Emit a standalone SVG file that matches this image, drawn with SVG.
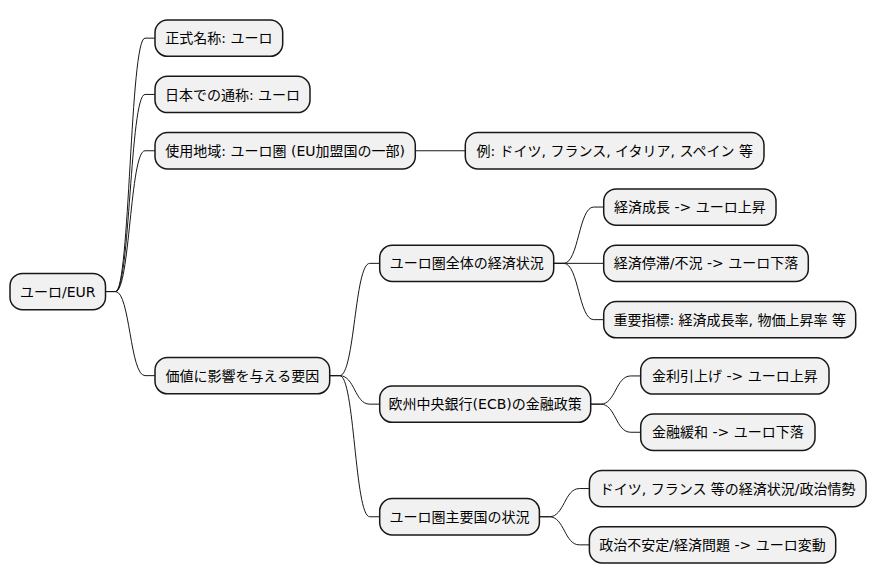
<svg xmlns="http://www.w3.org/2000/svg" width="876" height="583" viewBox="0 0 876 583">
<style>
.n rect{fill:#F1F1F1;stroke:#181818;stroke-width:1.5}
.n text{font-family:"DejaVu Sans","Noto Sans CJK JP",sans-serif;font-size:14px;fill:#000;text-anchor:middle}
#connectors path{fill:none;stroke:#181818;stroke-width:1}
</style>
<rect width="876" height="583" fill="#FFFFFF"/>
<g id="connectors">
<path d="M105.5 291.55 L115.5 291.55 C130 291.55 130 38.15 145 38.15 L155 38.15"/>
<path d="M105.5 291.55 L115.5 291.55 C130 291.55 130 94.45 145 94.45 L155 94.45"/>
<path d="M105.5 291.55 L115.5 291.55 C130 291.55 130 150.75 145 150.75 L155 150.75"/>
<path d="M105.5 291.55 L115.5 291.55 C130 291.55 130 375.65 145 375.65 L155 375.65"/>
<path d="M415.3 150.75 L465.3 150.75"/>
<path d="M329.7 375.65 L339.7 375.65 C354.7 375.65 354.7 263.35 369.7 263.35 L379.7 263.35"/>
<path d="M329.7 375.65 L339.7 375.65 C354.7 375.65 354.7 404.15 369.7 404.15 L379.7 404.15"/>
<path d="M329.7 375.65 L339.7 375.65 C354.7 375.65 354.7 516.75 369.7 516.75 L379.7 516.75"/>
<path d="M553.7 263.35 L563.7 263.35 C578.7 263.35 578.7 207.05 593.7 207.05 L603.7 207.05"/>
<path d="M553.7 263.35 L603.7 263.35"/>
<path d="M553.7 263.35 L563.7 263.35 C578.7 263.35 578.7 319.65 593.7 319.65 L603.7 319.65"/>
<path d="M590.7 404.15 L600.7 404.15 C615.7 404.15 615.7 375.95 630.7 375.95 L640.7 375.95"/>
<path d="M590.7 404.15 L600.7 404.15 C615.7 404.15 615.7 432.25 630.7 432.25 L640.7 432.25"/>
<path d="M539.4 516.75 L549.4 516.75 C564.4 516.75 564.4 488.55 579.4 488.55 L589.4 488.55"/>
<path d="M539.4 516.75 L549.4 516.75 C564.4 516.75 564.4 544.85 579.4 544.85 L589.4 544.85"/>
</g>
<g id="root" class="n"><rect x="10" y="273.4" width="95.5" height="36.3" rx="12.5"/><text x="57.75" y="296.6">ユーロ/EUR</text></g>
<g id="n1" class="n"><rect x="155" y="20" width="127.7" height="36.3" rx="12.5"/><text x="218.85" y="43.2">正式名称: ユーロ</text></g>
<g id="n2" class="n"><rect x="155" y="76.3" width="155" height="36.3" rx="12.5"/><text x="232.5" y="99.5">日本での通称: ユーロ</text></g>
<g id="n3" class="n"><rect x="155" y="132.6" width="260.3" height="36.3" rx="12.5"/><text x="285.15" y="155.8">使用地域: ユーロ圏 (EU加盟国の一部)</text></g>
<g id="n3a" class="n"><rect x="465.3" y="132.6" width="298.7" height="36.3" rx="12.5"/><text x="614.65" y="155.8">例: ドイツ, フランス, イタリア, スペイン 等</text></g>
<g id="n4" class="n"><rect x="155" y="357.5" width="174.7" height="36.3" rx="12.5"/><text x="242.35" y="380.7">価値に影響を与える要因</text></g>
<g id="l2a" class="n"><rect x="379.7" y="245.2" width="174" height="36.3" rx="12.5"/><text x="466.7" y="268.4">ユーロ圏全体の経済状況</text></g>
<g id="l2b" class="n"><rect x="379.7" y="386" width="211" height="36.3" rx="12.5"/><text x="485.2" y="409.2">欧州中央銀行(ECB)の金融政策</text></g>
<g id="l2c" class="n"><rect x="379.7" y="498.6" width="159.7" height="36.3" rx="12.5"/><text x="459.55" y="521.8">ユーロ圏主要国の状況</text></g>
<g id="l3a1" class="n"><rect x="603.7" y="188.9" width="172.3" height="36.3" rx="12.5"/><text x="689.85" y="212.1">経済成長 -&gt; ユーロ上昇</text></g>
<g id="l3a2" class="n"><rect x="603.7" y="245.2" width="204.6" height="36.3" rx="12.5"/><text x="706" y="268.4">経済停滞/不況 -&gt; ユーロ下落</text></g>
<g id="l3a3" class="n"><rect x="603.7" y="301.5" width="252" height="36.3" rx="12.5"/><text x="729.7" y="324.7">重要指標: 経済成長率, 物価上昇率 等</text></g>
<g id="l3b1" class="n"><rect x="640.7" y="357.8" width="188.3" height="36.3" rx="12.5"/><text x="734.85" y="381">金利引上げ -&gt; ユーロ上昇</text></g>
<g id="l3b2" class="n"><rect x="640.7" y="414.1" width="174.3" height="36.3" rx="12.5"/><text x="727.85" y="437.3">金融緩和 -&gt; ユーロ下落</text></g>
<g id="l3c1" class="n"><rect x="589.4" y="470.4" width="276.6" height="36.3" rx="12.5"/><text x="727.7" y="493.6">ドイツ, フランス 等の経済状況/政治情勢</text></g>
<g id="l3c2" class="n"><rect x="589.4" y="526.7" width="246.3" height="36.3" rx="12.5"/><text x="712.55" y="549.9">政治不安定/経済問題 -&gt; ユーロ変動</text></g>
</svg>
